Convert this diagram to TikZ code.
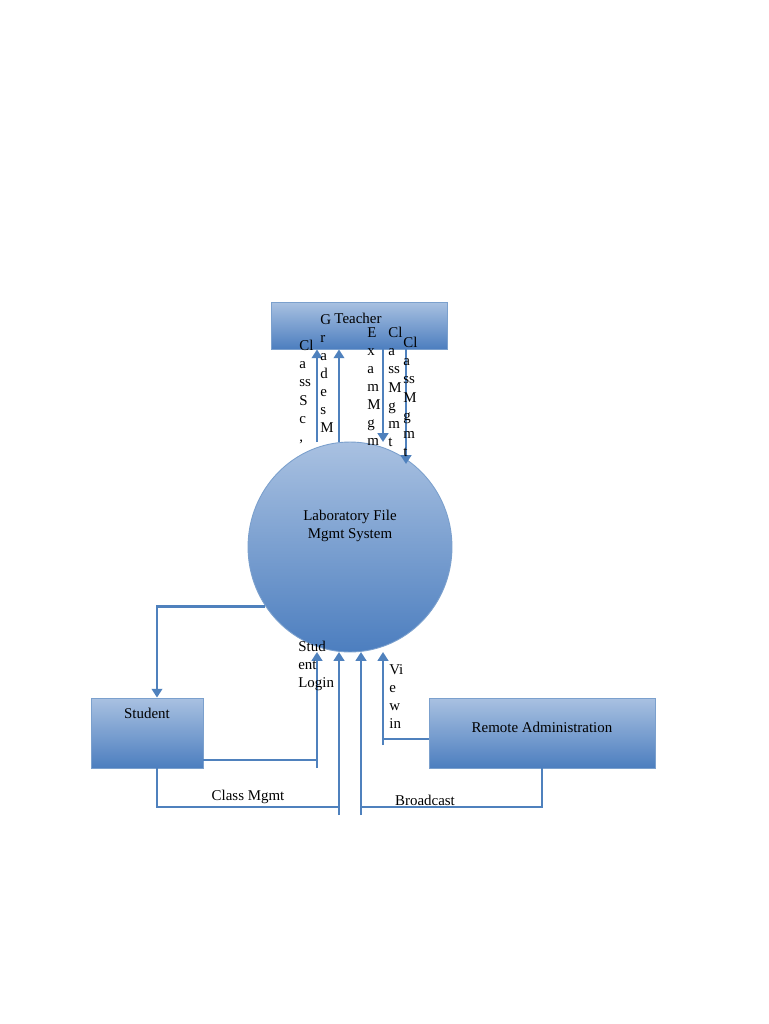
\documentclass[tikz,border=0pt]{standalone}
\usepackage{fontspec}
\setmainfont{Liberation Serif}
\usepackage{xcolor}
\usepackage{tikz}
\usetikzlibrary{positioning,arrows.meta,shapes.geometric,calc}

\definecolor{flowblue}{HTML}{4F81BD}
\definecolor{edgeblue}{HTML}{7BA0CD}
\definecolor{lightblue}{HTML}{A9C1E1}
\definecolor{darkblue}{HTML}{4C7EBF}

\begin{document}
\begin{tikzpicture}[x=0.02cm, y=-0.02cm, font=\fontsize{8.5}{10.3}\selectfont,
  flow/.style={draw=flowblue, line width=1.6pt},
  tipped/.style={flow, -{Triangle[width=6pt,length=5pt]}},
  entity/.style={draw=edgeblue, line width=0.5pt, top color=lightblue, bottom color=darkblue, minimum height=1.4cm},
  vlabel/.style={anchor=north west, inner sep=0pt, align=left}]

  % Canvas
  \fill[white] (0,0) rectangle (768,1024);

  % Entities
  \node[entity, minimum width=3.52cm, minimum height=0.94cm] (teacher) at (359,325.5) {};
  \node (teachertxt) at (358,318) {Teacher};
  \node[entity, minimum width=2.24cm] (student) at (147,733) {};
  \node (studenttxt) at (147,713) {Student};
  \node[entity, minimum width=4.52cm] (remote) at (542,733) {};
  \node (remotetxt) at (542,727) {Remote Administration};

  % Process
  \node[ellipse, draw=edgeblue, line width=0.5pt, top color=lightblue, bottom color=darkblue, minimum width=4.08cm, minimum height=4.2cm, inner sep=0pt] (lab) at (350,547) {};
  \node[align=center] (labtxt) at (350,526) {Laboratory File\\Mgmt System};

  % Flows between lab and teacher
  \coordinate (up1) at (317,442);
  \coordinate (up2) at (339,442);
  \coordinate (dn1) at (383,442);
  \coordinate (dn2) at (406,464);
  \draw[tipped] (up1) -- (up1 |- teacher.south);
  \draw[tipped] (up2) -- (up2 |- teacher.south);
  \draw[tipped] (dn1 |- teacher.south) -- (dn1);
  \draw[tipped] (dn2 |- teacher.south) -- (dn2);

  % Lab to student
  \draw[tipped] (lab.215) -| ($(student.north)+(10,0)$);

  % Student login
  \coordinate (loginelbow) at (317,760);
  \coordinate (loginfoot) at (317,768);
  \coordinate (logintip) at (317,652);
  \draw[flow] (student.east |- loginelbow) -- (loginelbow);
  \draw[tipped] (loginfoot) -- (logintip);

  % Class Mgmt
  \coordinate (classelbow) at (339,807);
  \coordinate (classfoot) at (339,815);
  \coordinate (classtip) at (339,652);
  \draw[flow] ($(student.south)+(10,0)$) |- (classelbow);
  \draw[tipped] (classfoot) -- (classtip);
  \node (classlbl) at (248,797) {Class Mgmt};

  % Broadcast
  \coordinate (castelbow) at (361,807);
  \coordinate (castfoot) at (361,815);
  \coordinate (casttip) at (361,652);
  \draw[flow] (remote.south) |- (castelbow);
  \draw[tipped] (castfoot) -- (casttip);
  \node (castlbl) at (425,800) {Broadcast};

  % Viewing
  \coordinate (viewelbow) at (383,739);
  \coordinate (viewfoot) at (383,745);
  \coordinate (viewtip) at (383,652);
  \draw[flow] (remote.west |- viewelbow) -- (viewelbow);
  \draw[tipped] (viewfoot) -- (viewtip);

  % Broken-up flow labels
  \node[vlabel] (lbl1) at (299,340) {Cl\\a\\ss\\S\\c\\,};
  \node[vlabel] (lbl2) at (320,314) {G\\r\\a\\d\\e\\s\\M};
  \node[vlabel] (lbl3) at (367,327) {E\\x\\a\\m\\M\\g\\m};
  \node[vlabel] (lbl4) at (388,327) {Cl\\a\\ss\\M\\g\\m\\t};
  \node[vlabel] (lbl5) at (403,337) {Cl\\a\\ss\\M\\g\\m\\t};
  \node[vlabel] (lbl6) at (298,641) {Stud\\ent\\Login};
  \node[vlabel] (lbl7) at (389,664) {Vi\\e\\w\\in};

\end{tikzpicture}
\end{document}
